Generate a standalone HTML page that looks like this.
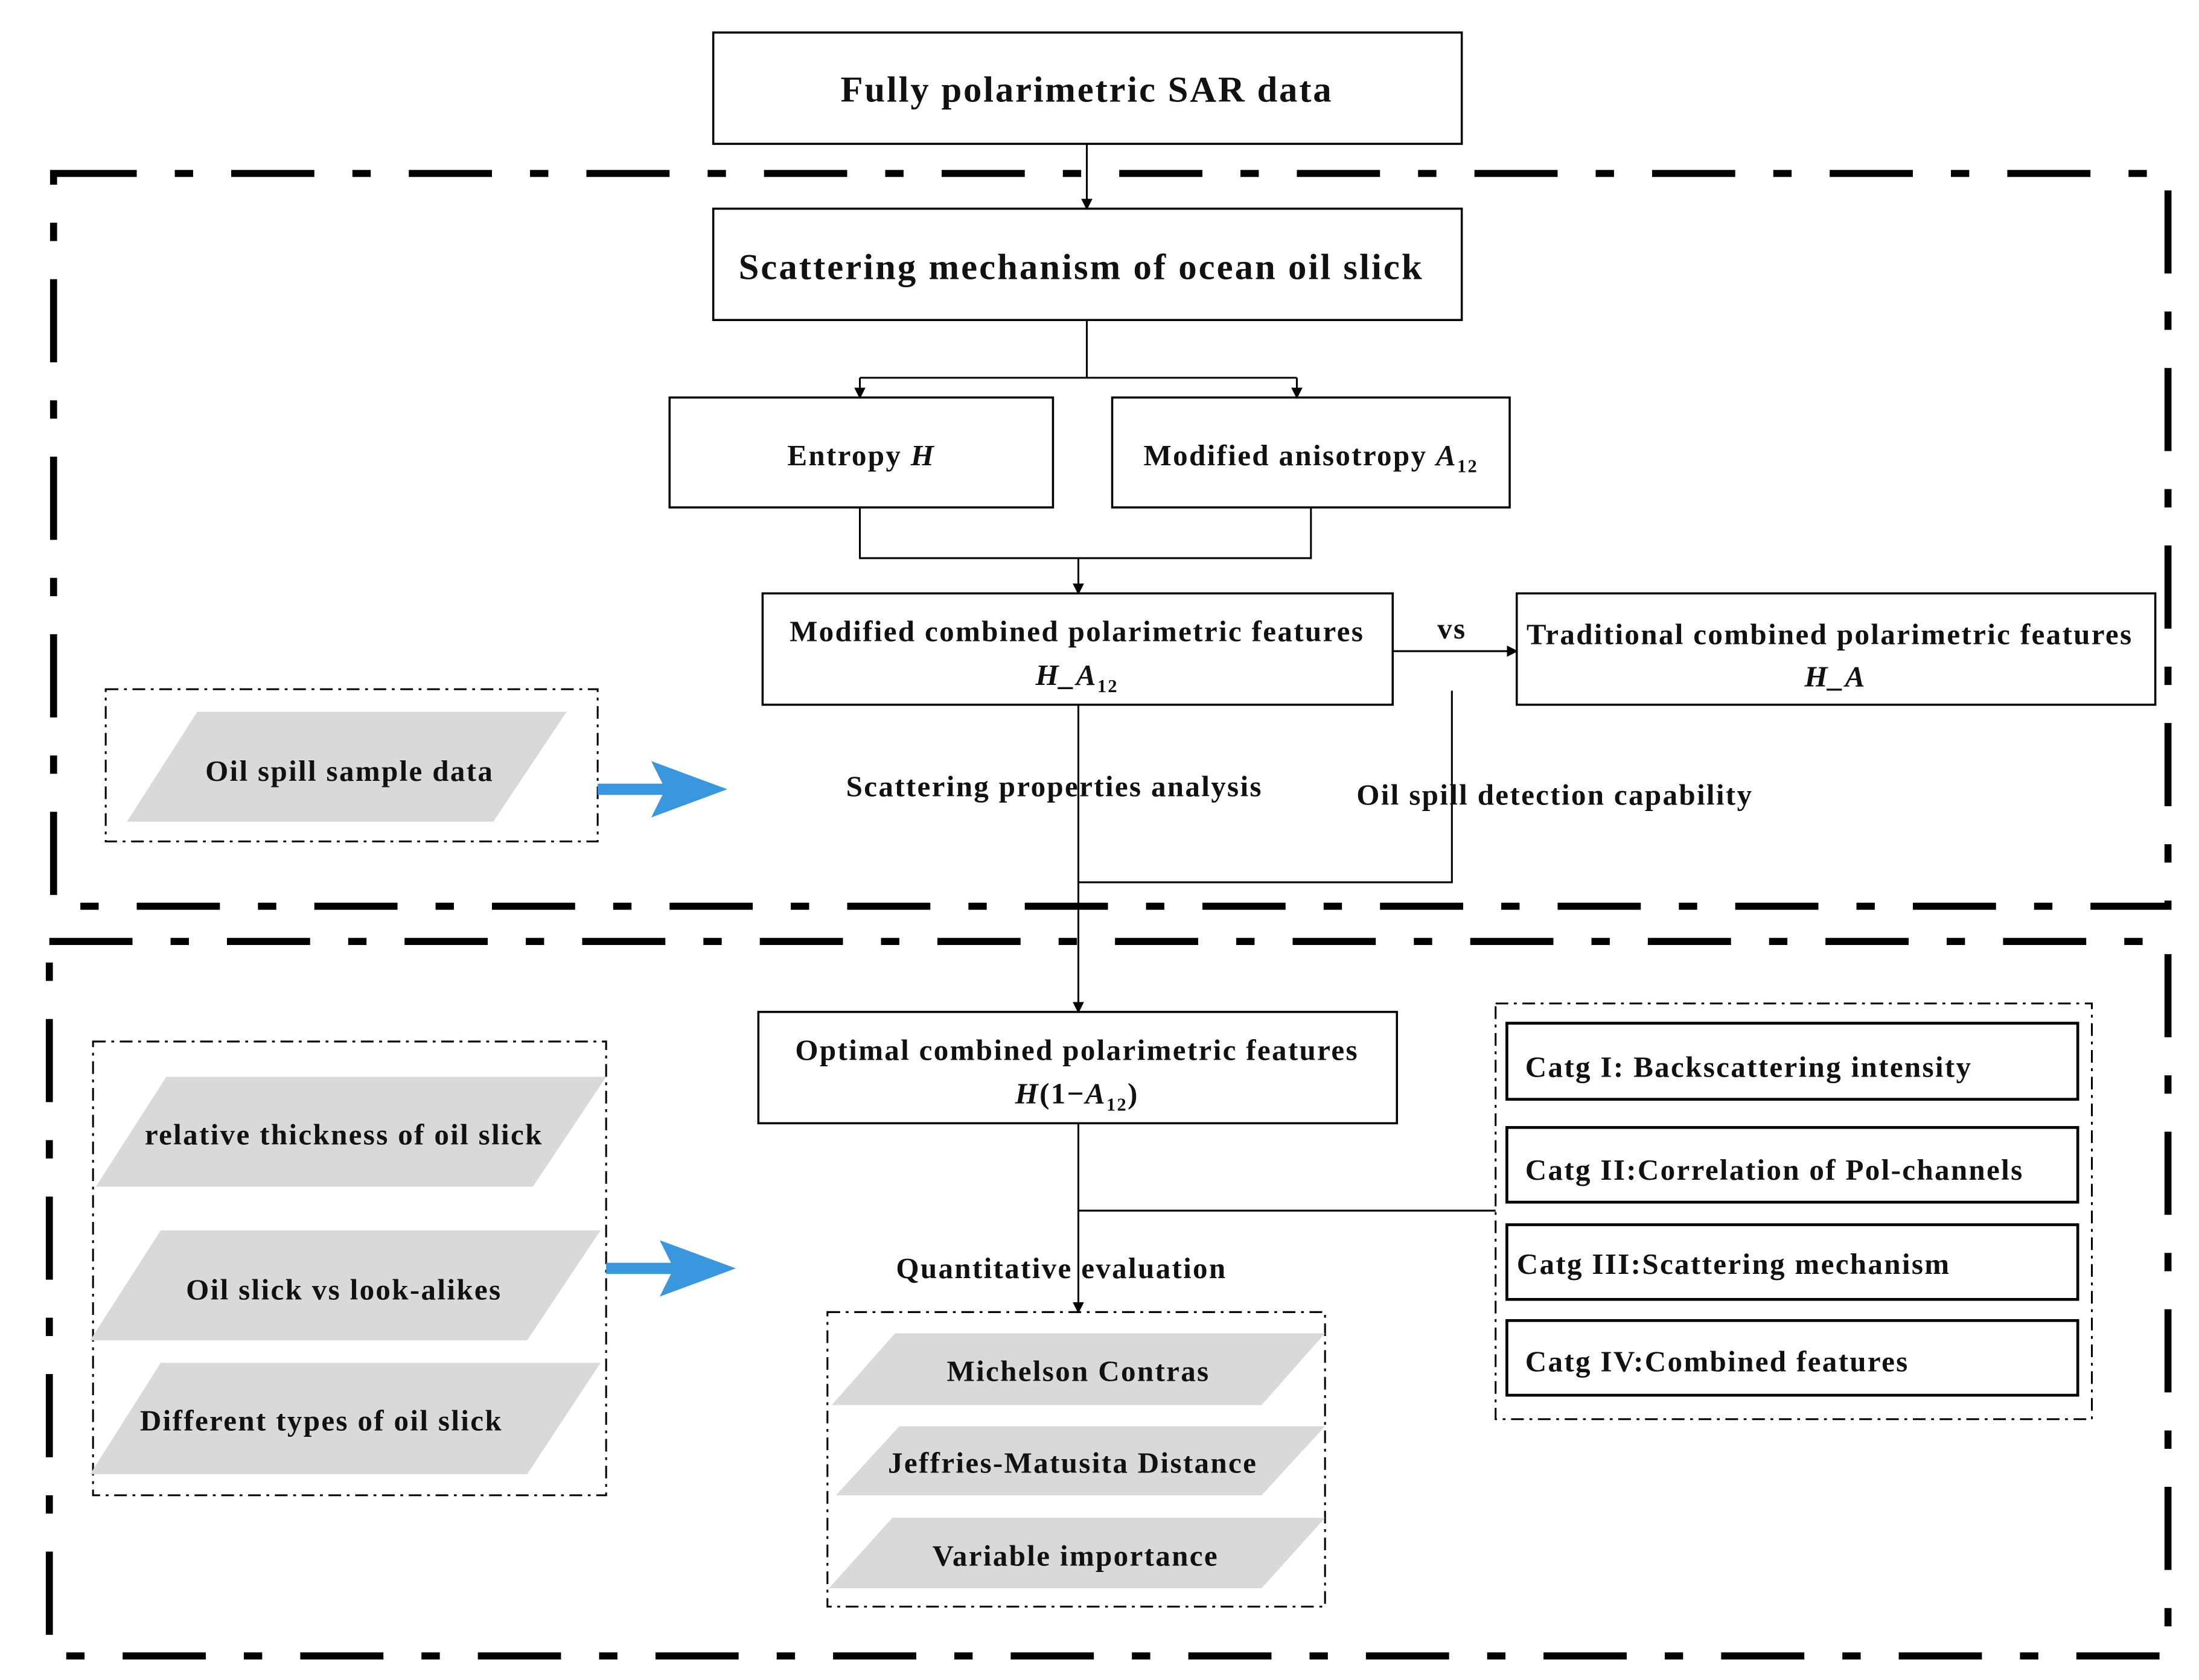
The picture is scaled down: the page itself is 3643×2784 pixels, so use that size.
<!DOCTYPE html>
<html><head><meta charset="utf-8"><style>
html,body{margin:0;padding:0;background:#fff}
svg{display:block}
text{font-family:"Liberation Serif",serif;font-weight:bold;fill:#111;letter-spacing:1px}
</style></head><body>
<svg width="3643" height="2784" viewBox="0 0 1560 1192" xmlns="http://www.w3.org/2000/svg">
<defs>
<marker id="ar" markerWidth="8" markerHeight="8" refX="7" refY="4" orient="auto" markerUnits="userSpaceOnUse">
<path d="M0,0 L8,4 L0,8 z" fill="#000"/></marker>
</defs>
<rect width="1560" height="1192" fill="#fff"/>
<g fill="none" stroke="#000" stroke-width="5" stroke-dasharray="59 27 13 27">
<rect x="38" y="123" width="1500" height="520"/>
<rect x="35" y="668" width="1503" height="507"/>
</g>
<g fill="none" stroke="#000" stroke-width="1.3" stroke-dasharray="9 4 2 4">
<rect x="75" y="489" width="349" height="108"/>
<rect x="66" y="739" width="364" height="322"/>
<rect x="587" y="931" width="353" height="209"/>
<rect x="1061" y="712" width="423" height="295"/>
</g>
<g fill="#fff" stroke="#000" stroke-width="1.5">
<rect x="506" y="23" width="531" height="79"/>
<rect x="506" y="148" width="531" height="79"/>
<rect x="475" y="282" width="272" height="78"/>
<rect x="789" y="282" width="282" height="78"/>
<rect x="541" y="421" width="447" height="79"/>
<rect x="1076" y="421" width="453" height="79"/>
<rect x="538" y="718" width="453" height="79"/>
<rect x="1069" y="726" width="405" height="54" stroke-width="2"/>
<rect x="1069" y="800" width="405" height="53" stroke-width="2"/>
<rect x="1069" y="869" width="405" height="53" stroke-width="2"/>
<rect x="1069" y="937" width="405" height="53" stroke-width="2"/>
</g>
<g fill="#d9d9d9">
<polygon points="90,583 140,505 402,505 350,583"/>
<polygon points="68,842 118,764 430,764 378,842"/>
<polygon points="64,951 114,873 426,873 374,951"/>
<polygon points="64,1046 114,967 426,967 374,1046"/>
<polygon points="590,997 635,946 940,946 895,997"/>
<polygon points="593,1061 638,1012 940,1012 895,1061"/>
<polygon points="588,1127 633,1077 940,1077 895,1127"/>
</g>
<g stroke="#000" stroke-width="1.3" fill="none">
<line x1="771" y1="102" x2="771" y2="148" marker-end="url(#ar)"/>
<polyline points="771,227 771,268"/>
<line x1="610" y1="268" x2="920" y2="268"/>
<line x1="610" y1="268" x2="610" y2="282" marker-end="url(#ar)"/>
<line x1="920" y1="268" x2="920" y2="282" marker-end="url(#ar)"/>
<polyline points="610,360 610,396 930,396 930,360"/>
<line x1="765" y1="396" x2="765" y2="421" marker-end="url(#ar)"/>
<line x1="988" y1="462" x2="1076" y2="462" marker-end="url(#ar)"/>
<line x1="765" y1="500" x2="765" y2="718" marker-end="url(#ar)"/>
<polyline points="1030,490 1030,626 765,626"/>
<line x1="765" y1="797" x2="765" y2="931" marker-end="url(#ar)"/>
<line x1="765" y1="859" x2="1061" y2="859"/>
</g>
<g fill="#3a96dd">
<polygon points="424,556 470,556 462,540 516,560 462,580 470,564 424,564"/>
<polygon points="430,896 476,896 468,880 522,900 468,920 476,904 430,904"/>
</g>
<g text-anchor="middle" font-size="26">
<text x="771" y="72" style="letter-spacing:1.2px">Fully polarimetric SAR data</text>
<text x="767" y="198" style="letter-spacing:1.3px">Scattering mechanism of ocean oil slick</text>
</g>
<g text-anchor="middle" font-size="21">
<text x="611" y="330">Entropy  <tspan font-style="italic">H</tspan></text>
<text x="930" y="330">Modified anisotropy <tspan font-style="italic">A</tspan><tspan font-size="13" dy="5">12</tspan></text>
<text x="764" y="455">Modified combined polarimetric features</text>
<text x="764" y="486"><tspan font-style="italic">H_A</tspan><tspan font-size="13" dy="5">12</tspan></text>
<text x="1030" y="453">vs</text>
<text x="1298" y="457">Traditional combined polarimetric features</text>
<text x="1302" y="487" font-style="italic">H_A</text>
<text x="248" y="554">Oil spill sample data</text>
<text x="748" y="565">Scattering properties analysis</text>
<text x="1103" y="571">Oil spill detection capability</text>
<text x="764" y="752">Optimal combined polarimetric features</text>
<text x="764" y="783"><tspan font-style="italic">H</tspan>(1−<tspan font-style="italic">A</tspan><tspan font-size="13" dy="5">12</tspan><tspan dy="-5">)</tspan></text>
<text x="244" y="812">relative thickness of oil slick</text>
<text x="244" y="922">Oil slick vs look-alikes</text>
<text x="228" y="1015">Different types of oil slick</text>
<text x="753" y="907">Quantitative evaluation</text>
<text x="765" y="980">Michelson Contras</text>
<text x="761" y="1045">Jeffries-Matusita Distance</text>
<text x="763" y="1111">Variable importance</text>
</g>
<g font-size="21">
<text x="1082" y="764">Catg I: Backscattering intensity</text>
<text x="1082" y="837">Catg II:Correlation of  Pol-channels</text>
<text x="1076" y="904">Catg III:Scattering mechanism</text>
<text x="1082" y="973">Catg IV:Combined  features</text>
</g>
</svg>
</body></html>
